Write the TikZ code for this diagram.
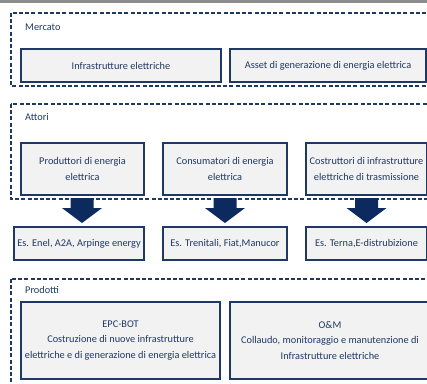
\documentclass[tikz,border=0pt]{standalone}
\usepackage{fontspec}
\setmainfont{Carlito}
\usetikzlibrary{calc}
\definecolor{navy}{HTML}{1F3864}
\definecolor{arrownavy}{HTML}{0C2A5E}
\definecolor{boxfill}{HTML}{F2F2F2}
\definecolor{topbar}{HTML}{8C8C8C}
\tikzset{
  box/.style={draw=navy, line width=1.6pt, fill=boxfill, inner sep=0pt, outer sep=0pt,
    align=center, text=navy, font=\fontsize{10.3}{15.5}\selectfont},
  grp/.style={draw=navy, line width=1.1pt, dash pattern=on 4pt off 2.2pt},
  lbl/.style={text=navy, font=\fontsize{10.3}{12}\selectfont, anchor=west, inner sep=0pt},
  fatarrow/.style={fill=arrownavy}
}
\begin{document}
\begin{tikzpicture}[x=1pt,y=-1pt]
\useasboundingbox (0,0) rectangle (427,383);
\clip (0,0) rectangle (427,383);
\fill[topbar] (0,0) rectangle (427,2.5);
% group frames
\draw[grp] (11,13) rectangle (440,86);
\draw[grp] (11,104) rectangle (440,199);
\draw[grp] (11,279) rectangle (440,395);
\node[lbl] (lm) at (25,27) {Mercato};
\node[lbl] (la) at (25,117) {Attori};
\node[lbl] (lp) at (25,290) {Prodotti};
% Mercato
\node[box, minimum width=200pt, minimum height=33pt] (m1) at (121,65.5) {Infrastrutture elettriche};
\node[box, minimum width=196pt, minimum height=33pt] (m2) at (328,65.5) {Asset di generazione di energia elettrica};
% Attori
\node[box, minimum width=123pt, minimum height=52pt] (a1) at (82.5,169) {Produttori di energia\\elettrica};
\node[box, minimum width=124pt, minimum height=52pt] (a2) at (225,169) {Consumatori di energia\\elettrica};
\node[box, minimum width=121pt, minimum height=52pt] (a3) at (366.5,169) {Costruttori di infrastrutture\\elettriche di trasmissione};
% examples
\node[box, minimum width=130pt, minimum height=33pt] (e1) at (79,243.5) {Es. Enel, A2A, Arpinge energy};
\node[box, minimum width=124pt, minimum height=33pt] (e2) at (225,243.5) {Es. Trenitali, Fiat,Manucor};
\node[box, minimum width=121pt, minimum height=33pt] (e3) at (366.5,243.5) {Es. Terna,E-distrubizione};
% Prodotti
\node[box, minimum width=199pt, minimum height=77pt] (p1) at (120.5,340.5) {EPC-BOT\\Costruzione di nuove infrastrutture\\elettriche e di generazione di energia elettrica};
\node[box, minimum width=200pt, minimum height=77pt] (p2) at (330,340.5) {O\&M\\Collaudo, monitoraggio e manutenzione di\\Infrastrutture elettriche};
% fat arrows
\foreach \s/\t/\cx in {a1/e1/82,a2/e2/225,a3/e3/366.5}{
  \fill[fatarrow] ($(\s.south -| \cx,0)+(-11.5,3)$) -- ($(\s.south -| \cx,0)+(11.5,3)$)
     -- ($(\s.south -| \cx,0)+(11.5,13)$) -- ($(\s.south -| \cx,0)+(20,13)$)
     -- ($(\t.north -| \cx,0)+(0,-4)$) -- ($(\s.south -| \cx,0)+(-20,13)$)
     -- ($(\s.south -| \cx,0)+(-11.5,13)$) -- cycle;
}
\end{tikzpicture}
\end{document}
